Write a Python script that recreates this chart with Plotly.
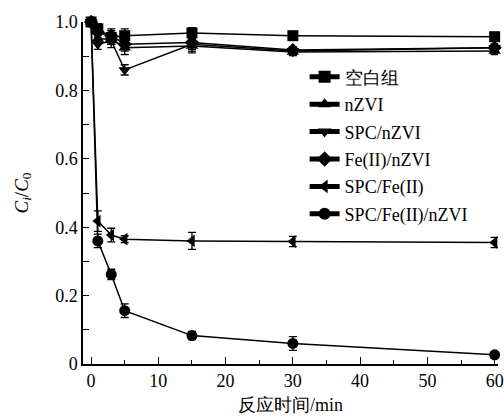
import plotly.graph_objects as go

times = [0, 1, 3, 5, 15, 30, 60]
names = ["空白组", "nZVI", "SPC/nZVI", "Fe(II)/nZVI", "SPC/Fe(II)", "SPC/Fe(II)/nZVI"]
blank = [1.0, 0.98, 0.955, 0.96, 0.968, 0.96, 0.957]
nzvi = [1.0, 0.95, 0.95, 0.925, 0.93, 0.912, 0.915]
spc_nzvi = [1.0, 0.935, 0.945, 0.86, 0.935, 0.915, 0.925]
fe_nzvi = [1.0, 0.97, 0.96, 0.935, 0.94, 0.918, 0.925]
spc_fe = [1.0, 0.418, 0.377, 0.365, 0.36, 0.358, 0.355]
spc_fe_nzvi = [1.0, 0.36, 0.262, 0.156, 0.083, 0.06, 0.027]
err_blank = [0.005, 0.015, 0.02, 0.02, 0.015, 0.01, 0.01]
err_nzvi = [0.005, 0.015, 0.015, 0.02, 0.02, 0.01, 0.01]
err_spc_nzvi = [0.005, 0.015, 0.02, 0.015, 0.02, 0.01, 0.01]
err_fe_nzvi = [0.005, 0.015, 0.02, 0.02, 0.02, 0.01, 0.01]
err_spc_fe = [0.005, 0.03, 0.02, 0.01, 0.025, 0.015, 0.015]
err_spc_fe_nzvi = [0.005, 0.02, 0.015, 0.02, 0.012, 0.02, 0.01]

series = [blank, nzvi, spc_nzvi, fe_nzvi, spc_fe, spc_fe_nzvi]
errors = [err_blank, err_nzvi, err_spc_nzvi, err_fe_nzvi, err_spc_fe, err_spc_fe_nzvi]
symbols = ["square", "triangle-up", "triangle-down", "diamond", "triangle-left", "circle"]

fig = go.Figure()
for i, (name, ys, es, sym) in enumerate(zip(names, series, errors, symbols)):
    fig.add_trace(go.Scatter(
        x=times, y=ys, name=name, mode="lines+markers", legendgroup=f"g{i}",
        line=dict(color="black", width=1.5),
        marker=dict(symbol=sym, size=11, color="black"),
        error_y=dict(type="data", array=es, visible=True, color="black", thickness=1.3, width=4),
        cliponaxis=False,
    ))

font = "Times New Roman"
fig.update_layout(
    width=504, height=419,
    margin=dict(l=83, r=0, t=22, b=55),
    paper_bgcolor="white", plot_bgcolor="white",
    font=dict(family=font, size=18, color="black"),
    showlegend=True,
    legend=dict(x=0.534, y=0.893, xanchor="left", yanchor="top",
                bgcolor="rgba(0,0,0,0)", font=dict(family=font, size=18),
                tracegroupgap=1, itemsizing="constant"),
    xaxis=dict(range=[-1.2, 60.5], tickvals=[0, 10, 20, 30, 40, 50, 60],
               ticks="inside", ticklen=7, tickwidth=1.2, tickcolor="black",
               ticklabeloverflow="allow",
               minor=dict(tickvals=[5, 15, 25, 35, 45, 55], ticks="inside", ticklen=4, tickcolor="black", tickwidth=1.2),
               showline=True, linecolor="black", linewidth=1.5, showgrid=False, zeroline=False,
               title=dict(text="反应时间/min", standoff=8, font=dict(size=18)),
               tickfont=dict(size=18)),
    yaxis=dict(range=[0, 1.0], tickvals=[0, 0.2, 0.4, 0.6, 0.8, 1.0],
               ticktext=["0", "0.2", "0.4", "0.6", "0.8", "1.0"],
               ticks="inside", ticklen=6, tickwidth=1.2, tickcolor="black",
               minor=dict(tickvals=[0.1, 0.3, 0.5, 0.7, 0.9], ticks="inside", ticklen=6, tickcolor="black", tickwidth=1.2),
               showline=True, linecolor="black", linewidth=1.5, showgrid=False, zeroline=False,
               title=dict(text="<i>C</i><sub><i>i</i></sub>/<i>C</i><sub>0</sub>", standoff=22, font=dict(size=19)),
               tickfont=dict(size=18)),
)
fig.write_html("out.html")
